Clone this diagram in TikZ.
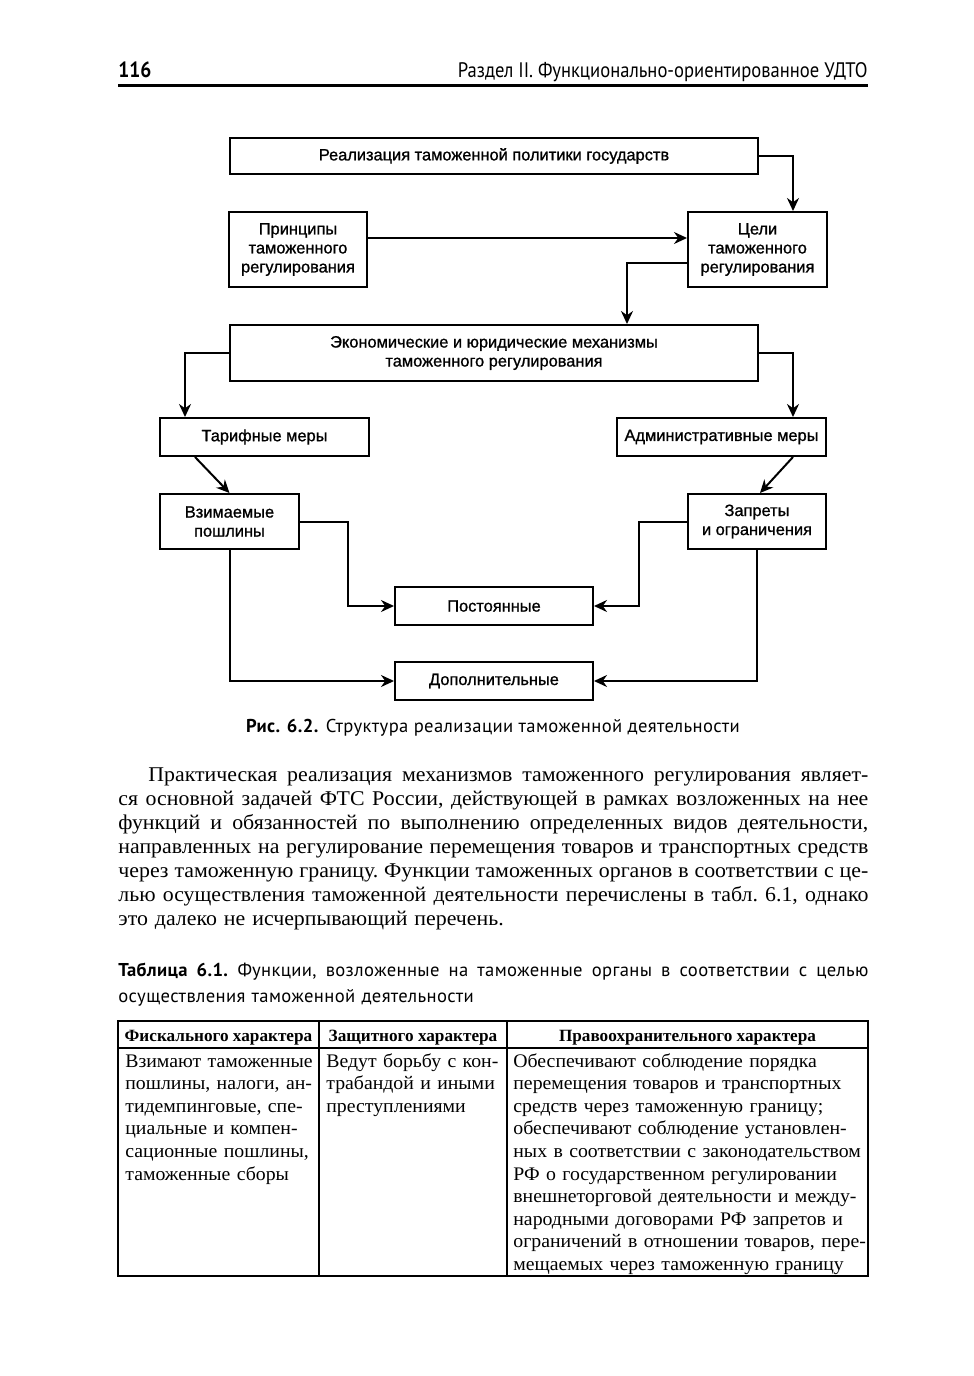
\documentclass[tikz,border=0pt]{standalone}
\usepackage{fontspec}
\setmainfont{Liberation Serif}
\newfontfamily\parafont[FakeStretch=1.04]{Liberation Serif}
\newfontfamily\cellfont[FakeStretch=1.03]{Liberation Serif}
\newfontfamily\diafont[FakeBold=1]{Liberation Sans}
\newfontfamily\headfont[FakeStretch=0.885]{PT Sans}
\newfontfamily\capfont[LetterSpace=2]{PT Sans}
\usetikzlibrary{arrows.meta,positioning}

% строка, растянутая на всю ширину набора
\newcommand{\fullline}[1]{\leavevmode{\frenchspacing\spaceskip=0.24em plus 1fil minus 0.08em\hbox to 375pt{#1}}}

\tikzset{
  box/.style={draw, line width=1pt, inner sep=1pt, align=center,
    font=\diafont\fontsize{8.2}{9.5}\selectfont},
  arr/.style={line width=1pt, -{Stealth[length=6.5pt,width=6pt]}},
  cell/.style={anchor=base west, inner sep=0pt, align=left,
    font=\cellfont\fontsize{9.6}{11.3}\selectfont},
  headcell/.style={anchor=base, inner sep=0pt,
    font=\bfseries\fontsize{8.6}{10}\selectfont},
}

\begin{document}
\begin{tikzpicture}[x=0.5pt, y=-0.5pt]
\useasboundingbox[fill=white] (0,0) rectangle (974,1376);

% 1. Колонтитул
\node[anchor=base west, inner sep=0pt, font=\headfont\bfseries\fontsize{11}{13}\selectfont] (pagenum) at (118,77) {116};
\node[anchor=base east, inner sep=0pt, font=\headfont\fontsize{10.5}{13}\selectfont] (runhead) at (868,77) {Раздел II. Функционально-ориентированное УДТО};
\draw[line width=1.5pt] (118,85) -- (868,85);

% 2. Блоки схемы
\node[box, minimum width=264pt, minimum height=18pt] (policy) at (494,156) {Реализация таможенной политики государств};
\node[box, minimum width=69pt, minimum height=37.5pt] (principles) at (298,249.5) {Принципы\\таможенного\\регулирования};
\node[box, minimum width=69.5pt, minimum height=37.5pt] (goals) at (757.5,249.5) {Цели\\таможенного\\регулирования};
\node[box, minimum width=264pt, minimum height=28pt] (mechanisms) at (494,353) {Экономические и юридические механизмы\\таможенного регулирования};
\node[box, minimum width=104.5pt, minimum height=19pt] (tariff) at (264.5,437) {Тарифные меры};
\node[box, minimum width=104.5pt, minimum height=19pt] (admin) at (721.5,437) {Административные меры};
\node[box, minimum width=69.5pt, minimum height=27.5pt] (duties) at (229.5,521.5) {Взимаемые\\пошлины};
\node[box, minimum width=69pt, minimum height=27.5pt] (bans) at (757,521.5) {Запреты\\и ограничения};
\node[box, minimum width=99pt, minimum height=19pt] (permanent) at (494,606) {Постоянные};
\node[box, minimum width=99pt, minimum height=19pt] (additional) at (494,681) {Дополнительные};

% 3. Стрелки
\draw[arr] (policy.east) -| ([xshift=17.75pt]goals.north);
\draw[arr] ([yshift=5.75pt]principles.east) -- ([yshift=5.75pt]goals.west);
\draw[arr] ([yshift=-6.75pt]goals.west) -| ([xshift=66.5pt]mechanisms.north);
\draw[arr] (mechanisms.west) -| ([xshift=-39.75pt]tariff.north);
\draw[arr] (mechanisms.east) -| ([xshift=35.75pt]admin.north);
\draw[arr] ([xshift=-34.75pt]tariff.south) -- (duties.north);
\draw[arr] ([xshift=35.75pt]admin.south) -- ([xshift=1.5pt]bans.north);
\draw[arr] (duties.east) -- ++(48,0) |- (permanent.west);
\draw[arr] (bans.west) -- ++(-48,0) |- (permanent.east);
\draw[arr] (duties.south) |- (additional.west);
\draw[arr] (bans.south) |- (additional.east);

% 4. Подпись к рисунку
\node[anchor=base, inner sep=0pt, font=\capfont\fontsize{9.3}{11}\selectfont] (figcap) at (493,732) {\textbf{Рис. 6.2.} Структура реализации таможенной деятельности};

% 5. Абзац текста
\node[anchor=base west, inner sep=0pt, text width=375pt, align=left,
  font=\parafont\fontsize{10.5}{12}\selectfont] (para) at (118,781)
{\fullline{\hspace*{15pt}Практическая реализация механизмов таможенного регулирования являет-}\\
\fullline{ся основной задачей ФТС России, действующей в рамках возложенных на нее}\\
\fullline{функций и обязанностей по выполнению определенных видов деятельности,}\\
\fullline{направленных на регулирование перемещения товаров и транспортных средств}\\
\fullline{через таможенную границу. Функции таможенных органов в соответствии с це-}\\
\fullline{лью осуществления таможенной деятельности перечислены в табл. 6.1, однако}\\
это далеко не исчерпывающий перечень.};

% 6. Название таблицы
\node[anchor=base west, inner sep=0pt, text width=375pt, align=left,
  font=\capfont\fontsize{9.3}{13}\selectfont] (tabcap) at (118,976)
{\fullline{\textbf{Таблица 6.1.} Функции, возложенные на таможенные органы в соответствии с целью}\\
осуществления таможенной деятельности};

% 7. Таблица
\draw[line width=1pt] (118,1021) rectangle (868,1276);
\draw[line width=1pt] (118,1048) -- (868,1048);
\foreach \x in {319,507}
  \draw[line width=0.8pt] (\x,1021) -- (\x,1276);

\node[headcell] (head1) at (218.5,1041) {Фискального характера};
\node[headcell] (head2) at (413,1041) {Защитного характера};
\node[headcell] (head3) at (687.5,1041) {Правоохранительного характера};

\node[cell, text width=100pt] (fiscal) at (125,1067) {Взимают таможенные\\пошлины, налоги, ан-\\тидемпинговые, спе-\\циальные и компен-\\сационные пошлины,\\таможенные сборы};
\node[cell, text width=95pt] (protect) at (326,1067) {Ведут борьбу с кон-\\трабандой и иными\\преступлениями};
\node[cell, text width=180pt] (lawenf) at (513,1067) {Обеспечивают соблюдение порядка\\перемещения товаров и транспортных\\средств через таможенную границу;\\обеспечивают соблюдение установлен-\\ных в соответствии с законодательством\\РФ о государственном регулировании\\внешнеторговой деятельности и между-\\народными договорами РФ запретов и\\ограничений в отношении товаров, пере-\\мещаемых через таможенную границу};

\end{tikzpicture}
\end{document}
